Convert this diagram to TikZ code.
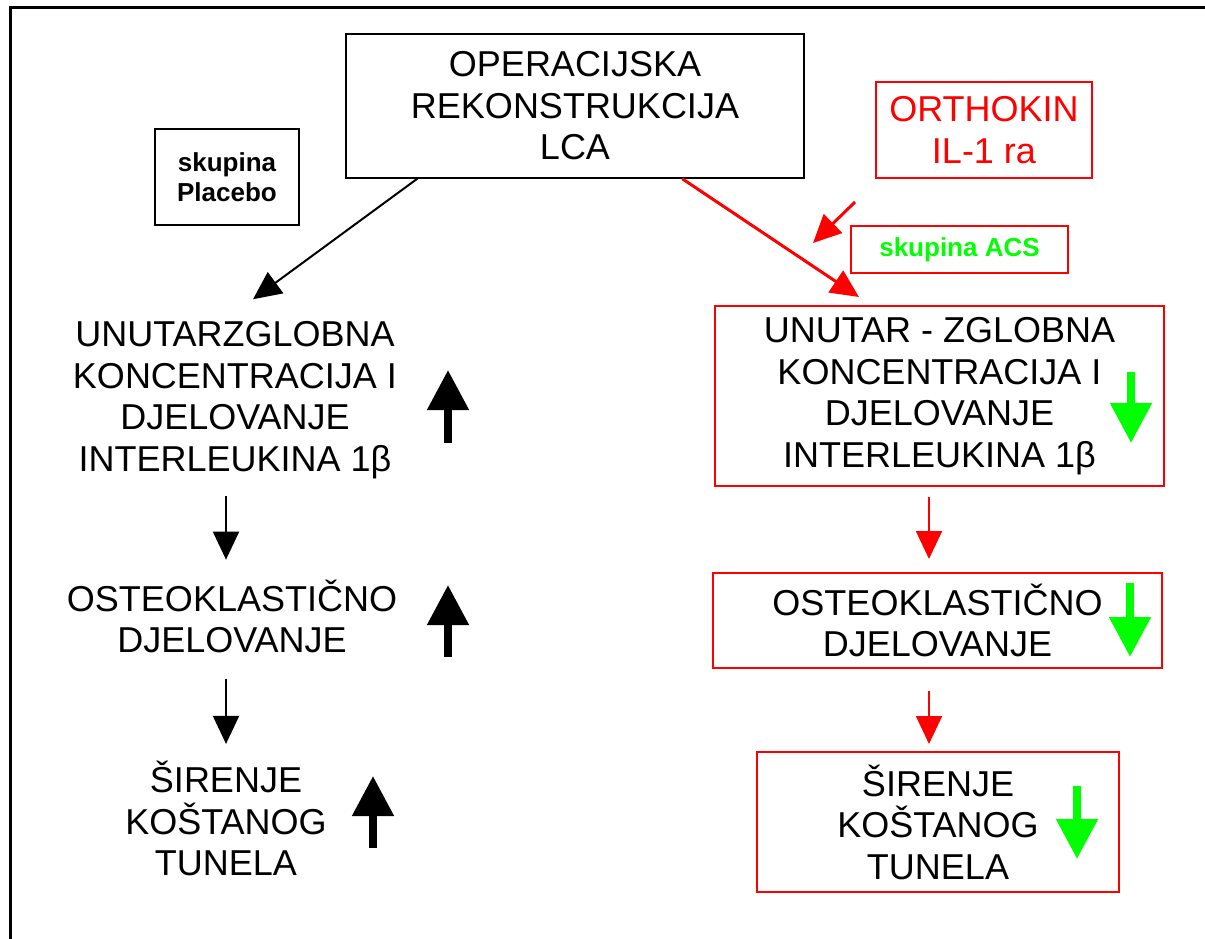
\documentclass[tikz,border=0pt]{standalone}
\usepackage{fontspec}
\setmainfont{Liberation Sans}
\usetikzlibrary{arrows.meta}
\definecolor{jred}{RGB}{255,0,0}
\definecolor{jgreen}{RGB}{0,255,0}
\begin{document}
\begin{tikzpicture}[x=1pt,y=-1pt,
	every node/.style={inner sep=0pt,align=center,font=\fontsize{36}{41.5}\selectfont},
	box/.style={draw,line width=1.5pt},
	redbox/.style={draw=jred,line width=2pt},
	small/.style={font=\fontsize{26}{30}\selectfont\bfseries},
	conn/.style={line width=2pt,-{Triangle[length=28pt,width=26pt]}},
	blockup/.style={line width=8pt,-{Triangle[length=40pt,width=40pt]}}]
\useasboundingbox (0,0) rectangle (1205,939);
\draw[line width=3pt] (10,939) -- (10,8) -- (1205,8);
\node[box,minimum width=458pt,minimum height=144pt] (lca) at (575,106) {OPERACIJSKA\\REKONSTRUKCIJA\\LCA};
\node[box,small,minimum width=144pt,minimum height=96pt] (plac) at (227,177) {skupina\\Placebo};
\node[redbox,text=jred,minimum width=216pt,minimum height=96pt] (orth) at (984,130) {ORTHOKIN\\IL-1 ra};
\node[redbox,small,text=jgreen,minimum width=217pt,minimum height=47pt] (acs) at (959.5,249.5) {skupina ACS};
\node (lint) at (235,400) {UNUTARZGLOBNA\\KONCENTRACIJA I\\DJELOVANJE\\INTERLEUKINA 1β};
\node (lost) at (232,616.5) {OSTEOKLASTIČNO\\DJELOVANJE};
\node (lsir) at (226,818.5) {ŠIRENJE\\KOŠTANOG\\TUNELA};
\node[redbox,minimum width=449pt,minimum height=180pt] (rint) at (939.5,396) {UNUTAR - ZGLOBNA\\KONCENTRACIJA I\\DJELOVANJE\\INTERLEUKINA 1β};
\node[redbox,minimum width=449pt,minimum height=95pt] (rost) at (937.5,620.5) {OSTEOKLASTIČNO\\DJELOVANJE};
\node[redbox,minimum width=362pt,minimum height=140pt] (rsir) at (938,822) {ŠIRENJE\\KOŠTANOG\\TUNELA};
\coordinate (lx) at (226,0);
\coordinate (rx) at (929,0);
\coordinate (o1) at (855,202);
\coordinate (o2) at (813,243);
\draw[conn] ([xshift=72pt]lca.south west) -- ([xshift=18pt,yshift=22pt]lint.north);
\draw[conn,jred,line width=3pt] ([xshift=337pt]lca.south west) -- ([xshift=145pt,yshift=8pt]rint.north west);
\draw[conn,jred,line width=3pt] (o1) -- (o2);
\draw[conn,shorten <=17pt,shorten >=20pt] (lint.south -| lx) -- (lost.north -| lx);
\draw[conn,shorten <=26pt,shorten >=17pt] (lost.south -| lx) -- (lsir.north -| lx);
\draw[conn,jred,shorten <=10pt,shorten >=13pt] (rint.south -| rx) -- (rost.north -| rx);
\draw[conn,jred,shorten <=22pt,shorten >=7pt] (rost.south -| rx) -- (rsir.north -| rx);
\draw[blockup] (448,443) -- (448,370);
\draw[blockup] (448,657) -- (448,585);
\draw[blockup] (373,848) -- (373,776);
\draw[blockup,jgreen] (1131,372) -- (1131,443);
\draw[blockup,jgreen] (1130,583) -- (1130,657);
\draw[blockup,jgreen] (1077,786) -- (1077,859);
\end{tikzpicture}
\end{document}
